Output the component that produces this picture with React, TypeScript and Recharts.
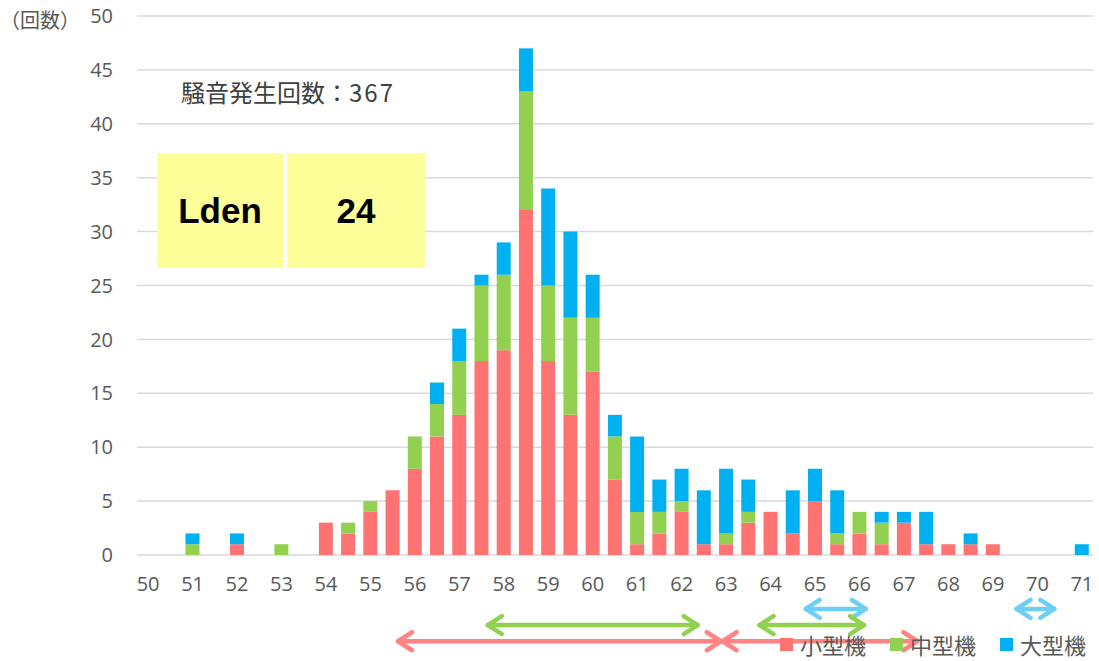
import { BarChart, Bar, XAxis, YAxis, CartesianGrid, Legend, ReferenceLine } from "recharts";

// noise level classes (dB), every 0.5
const LEVELS = [
  50, 50.5, 51, 51.5, 52, 52.5, 53, 53.5, 54, 54.5, 55, 55.5, 56, 56.5, 57, 57.5, 58, 58.5, 59, 59.5, 60, 60.5,
  61, 61.5, 62, 62.5, 63, 63.5, 64, 64.5, 65, 65.5, 66, 66.5, 67, 67.5, 68, 68.5, 69, 69.5, 70, 70.5, 71,
];
const SMALL = [
  0, 0, 0, 0, 1, 0, 0, 0, 3, 2, 4, 6, 8, 11, 13, 18, 19, 32, 18, 13, 17, 7,
  1, 2, 4, 1, 1, 3, 4, 2, 5, 1, 2, 1, 3, 1, 1, 1, 1, 0, 0, 0, 0,
];
const MEDIUM = [
  0, 0, 1, 0, 0, 0, 1, 0, 0, 1, 1, 0, 3, 3, 5, 7, 7, 11, 7, 9, 5, 4,
  3, 2, 1, 0, 1, 1, 0, 0, 0, 1, 2, 2, 0, 0, 0, 0, 0, 0, 0, 0, 0,
];
const LARGE = [
  0, 0, 1, 0, 1, 0, 0, 0, 0, 0, 0, 0, 0, 2, 3, 1, 3, 4, 9, 8, 4, 2,
  7, 3, 3, 5, 6, 3, 0, 4, 3, 4, 0, 1, 1, 3, 0, 1, 0, 0, 0, 0, 1,
];
const X_TICKS = [50, 51, 52, 53, 54, 55, 56, 57, 58, 59, 60, 61, 62, 63, 64, 65, 66, 67, 68, 69, 70, 71];
const Y_TICKS = [0, 5, 10, 15, 20, 25, 30, 35, 40, 45, 50];

// level ranges marked with arrows under the axis
const RANGES_SMALL = [[55.62, 62.88], [62.92, 67.3]];
const RANGES_MEDIUM = [[57.64, 62.36], [63.75, 66.1]];
const RANGES_LARGE = [[64.79, 66.14], [69.53, 70.38]];

const SERIES = ["small", "medium", "large"];
const NAMES = { small: "小型機", medium: "中型機", large: "大型機" };
const COLORS = { small: "#FF7373", medium: "#92D050", large: "#00B0F0" };
const ARROW_COLORS = { small: "#FF8585", medium: "#92D050", large: "#6DCFF6" };
const ARROW_ROW = { small: -8, medium: -6.5, large: -5 };

const TOTAL = 367;
const LDEN = 24;

const data = LEVELS.map((level, i) => ({ level, small: SMALL[i], medium: MEDIUM[i], large: LARGE[i] }));

const FONT = "'Open Sans', 'Noto Sans CJK JP', sans-serif";
const CJK = "'Noto Sans CJK JP', 'Noto Sans', sans-serif";

function DoubleArrow(props: any) {
  const { x1, y1, x2, y2, color } = props;
  const h = 14;
  const w = 9;
  return (
    <g stroke={color} strokeWidth={4.5} strokeLinecap="round" strokeLinejoin="round" fill="none">
      <line x1={x1} y1={y1} x2={x2} y2={y2} />
      <polyline points={`${x1 + h},${y1 - w} ${x1},${y1} ${x1 + h},${y1 + w}`} />
      <polyline points={`${x2 - h},${y2 - w} ${x2},${y2} ${x2 - h},${y2 + w}`} />
    </g>
  );
}

function arrows(ranges: number[][], kind: "small" | "medium" | "large") {
  return ranges.map(([a, b], i) => (
    <ReferenceLine
      key={`${kind}-${i}`}
      segment={[{ x: a, y: ARROW_ROW[kind] }, { x: b, y: ARROW_ROW[kind] }]}
      ifOverflow="visible"
      stroke={ARROW_COLORS[kind]}
      shape={(p: any) => <DoubleArrow {...p} color={ARROW_COLORS[kind]} />}
    />
  ));
}

const renderLegend = (props: any) => {
  const items = [...(props.payload || [])].sort(
    (a: any, b: any) => SERIES.indexOf(a.dataKey) - SERIES.indexOf(b.dataKey)
  );
  return (
    <div style={{ display: "flex", alignItems: "center", whiteSpace: "nowrap", width: 330 }}>
      {items.map((p: any) => (
        <div key={p.dataKey} style={{ display: "flex", alignItems: "center", marginRight: 24, flex: "none" }}>
          <span style={{ display: "block", flex: "none", width: 13, height: 13, background: COLORS[p.dataKey as keyof typeof COLORS], marginRight: 7 }} />
          <span style={{ fontSize: 22, color: "#595959", fontFamily: CJK, lineHeight: "24px" }}>{p.value}</span>
        </div>
      ))}
    </div>
  );
};

export default function App() {
  return (
    <div style={{ position: "absolute", left: 0, top: 0, width: 1099, height: 661, background: "#fff", overflow: "hidden", fontFamily: FONT }}>
      <BarChart width={1099} height={661} data={data} barSize={14} margin={{ top: 16, right: 6, bottom: 76, left: 77 }}>
        <CartesianGrid vertical={false} stroke="#D9D9D9" strokeWidth={1.5} />
        <XAxis
          dataKey="level"
          type="number"
          domain={[49.75, 71.25]}
          ticks={X_TICKS}
          interval={0}
          tickLine={false}
          axisLine={false}
          tickMargin={16}
          height={30}
          tick={{ fill: "#595959", fontSize: 20, fontFamily: FONT }}
        />
        <YAxis
          domain={[0, 50]}
          ticks={Y_TICKS}
          interval={0}
          width={60}
          tickLine={false}
          axisLine={false}
          tickMargin={18}
          tick={{ fill: "#595959", fontSize: 20, fontFamily: FONT }}
        />
        <Bar dataKey="small" name={NAMES.small} stackId="a" fill={COLORS.small} isAnimationActive={false} />
        <Bar dataKey="medium" name={NAMES.medium} stackId="a" fill={COLORS.medium} isAnimationActive={false} />
        <Bar dataKey="large" name={NAMES.large} stackId="a" fill={COLORS.large} isAnimationActive={false} />
        {arrows(RANGES_LARGE, "large")}
        {arrows(RANGES_MEDIUM, "medium")}
        {arrows(RANGES_SMALL, "small")}
        <Legend
          layout="horizontal"
          verticalAlign="middle"
          align="center"
          content={renderLegend}
          wrapperStyle={{ position: "absolute", left: 780, top: 632, width: 330, height: 26 }}
        />
      </BarChart>

      <div style={{ position: "absolute", left: 0, top: 6, fontSize: 20, color: "#595959", fontFamily: CJK, lineHeight: "28px", whiteSpace: "nowrap" }}>
        （回数）
      </div>

      <div style={{ position: "absolute", left: 181, top: 76, fontSize: 24, color: "#404040", fontFamily: CJK, lineHeight: "32px", whiteSpace: "nowrap" }}>
        騒音発生回数：<span style={{ letterSpacing: 2 }}>{TOTAL}</span>
      </div>

      <div style={{ position: "absolute", left: 157, top: 153, width: 268, height: 115, display: "flex", background: "#fff" }}>
        <div style={{ width: 126, height: 115, background: "#FFFF99", display: "flex", alignItems: "center", justifyContent: "center", fontFamily: "'Liberation Sans', Arial, sans-serif", fontWeight: 700, fontSize: 35, color: "#000" }}>
          Lden
        </div>
        <div style={{ width: 138, height: 115, marginLeft: 4, background: "#FFFF99", display: "flex", alignItems: "center", justifyContent: "center", fontFamily: "'Liberation Sans', Arial, sans-serif", fontWeight: 700, fontSize: 35, color: "#000" }}>
          {LDEN}
        </div>
      </div>
    </div>
  );
}
